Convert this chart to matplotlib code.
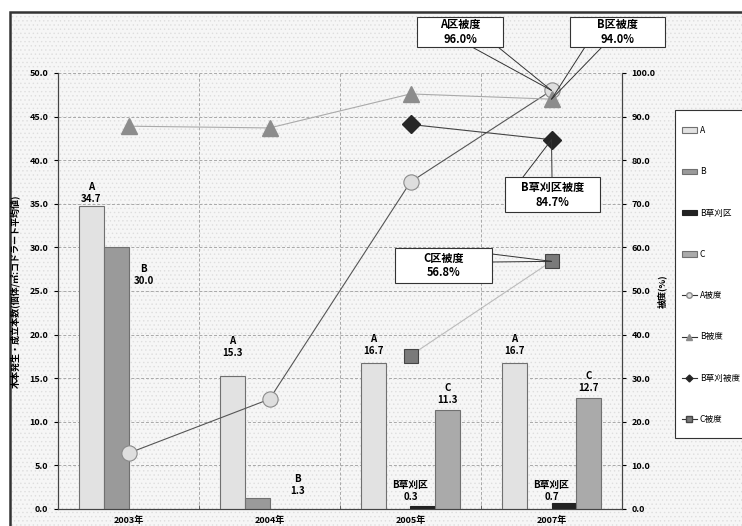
import numpy as np
import matplotlib
matplotlib.use("Agg")
import matplotlib.pyplot as plt
from matplotlib.patches import Rectangle, ConnectionPatch, Patch
from matplotlib.lines import Line2D

plt.rcParams['font.family'] = ['Noto Sans CJK JP', 'DejaVu Sans']
plt.rcParams['hatch.linewidth'] = 0.5

years = ['2003年', '2004年', '2005年', '2007年']
bar_A = [34.7, 15.3, 16.7, 16.7]
bar_B = [30.0, 1.3, np.nan, np.nan]
bar_Bmow = [np.nan, np.nan, 0.3, 0.7]
bar_C = [np.nan, np.nan, 11.3, 12.7]
cov_A = [12.8, 25.2, 75.0, 96.0]
cov_B = [87.8, 87.4, 95.2, 94.0]
cov_Bmow = [np.nan, np.nan, 88.2, 84.7]
cov_C = [np.nan, np.nan, 35.2, 56.8]

W, H = 742, 526
fig = plt.figure(figsize=(W / 100, H / 100), dpi=100)
fig.patch.set_facecolor('white')

def fx(px):
    return px / W

def fy(py):
    return 1 - py / H

# textured chart area background with frame
bg = Rectangle((fx(10), -0.02), 1.0, fy(12) + 0.02, transform=fig.transFigure,
               facecolor='#f6f6f6', edgecolor='#dedede', linewidth=0,
               hatch='....', zorder=-10)
fig.add_artist(bg)
frame = Rectangle((fx(10), -0.02), 1.0, fy(12) + 0.02, transform=fig.transFigure,
                  facecolor='none', edgecolor='#333333', linewidth=1.8, zorder=-9)
fig.add_artist(frame)

ax = fig.add_axes([fx(58), fy(509), fx(622) - fx(58), fy(73) - fy(509)])
ax.set_facecolor('none')
ax2 = ax.twinx()
ax2.set_facecolor('none')

x = np.arange(len(years))
w = 0.177
ec = '#707070'
ax.bar(x - 1.5 * w, bar_A, w, color='#e2e2e2', edgecolor=ec, linewidth=0.8, zorder=3)
ax.bar(x - 0.5 * w, bar_B, w, color='#9a9a9a', edgecolor=ec, linewidth=0.8, zorder=3)
ax.bar(x + 0.5 * w, bar_Bmow, w, color='#222222', edgecolor='#222222', linewidth=0.8, zorder=3)
ax.bar(x + 1.5 * w, bar_C, w, color='#aaaaaa', edgecolor=ec, linewidth=0.8, zorder=3)

ax.set_xlim(-0.5, 3.5)
ax.set_ylim(0, 50)
ax2.set_ylim(0, 100)
ax.set_yticks(np.arange(0, 50.1, 5))
ax.set_yticklabels([f'{v:.1f}' for v in np.arange(0, 50.1, 5)], fontsize=6.5, fontweight='bold')
ax2.set_yticks(np.arange(0, 100.1, 10))
ax2.set_yticklabels([f'{v:.1f}' for v in np.arange(0, 100.1, 10)], fontsize=6.5, fontweight='bold')
ax.set_xticks(x)
ax.set_xticklabels(years, fontsize=6.5, fontweight='bold')
ax.tick_params(axis='x', length=0, pad=5)
ax.set_xticks([0.5, 1.5, 2.5], minor=True)
ax.tick_params(axis='x', which='minor', direction='in', length=3, color='#555555')
ax.tick_params(axis='y', length=3, width=0.8, pad=4)
ax2.tick_params(axis='y', length=3, width=0.8, pad=4)

for a in (ax, ax2):
    a.spines['top'].set_visible(False)
    a.spines['left'].set_color('#444444')
    a.spines['right'].set_color('#444444')
    a.spines['bottom'].set_color('#444444')

ax.yaxis.grid(True, linestyle=(0, (3, 2)), color='#a8a8a8', linewidth=0.7, zorder=0)
ax.xaxis.grid(True, which='minor', linestyle=(0, (3, 2)), color='#a8a8a8', linewidth=0.7, zorder=0)
ax.set_axisbelow(True)

ax.set_ylabel('木本発生・成立本数(個体/㎡:コドラート平均値)', fontsize=6.5, fontweight='bold')
ax.yaxis.set_label_coords(-0.068, 0.5)
ax2.set_ylabel('被度(%)', fontsize=6.5, fontweight='bold', rotation=90, labelpad=1)

# bar value labels
lab = dict(ha='center', va='bottom', fontsize=7, fontweight='bold', linespacing=1.25,
           textcoords='offset points', zorder=6)
ax.annotate(f'A\n{bar_A[0]:.1f}', (x[0] - 1.5 * w, bar_A[0]), xytext=(0, 2), **lab)
ax.annotate(f'A\n{bar_A[1]:.1f}', (x[1] - 1.5 * w, bar_A[1]), xytext=(0, 13), **lab)
ax.annotate(f'A\n{bar_A[2]:.1f}', (x[2] - 1.5 * w, bar_A[2]), xytext=(0, 5), **lab)
ax.annotate(f'A\n{bar_A[3]:.1f}', (x[3] - 1.5 * w, bar_A[3]), xytext=(0, 5), **lab)
ax.annotate(f'B\n{bar_B[0]:.1f}', (x[0] + 0.5 * w, bar_B[0]), xytext=(2, -28), **lab)
ax.annotate(f'B\n{bar_B[1]:.1f}', (x[1] + 0.5 * w, bar_B[1]), xytext=(11, 1), **lab)
ax.annotate(f'B草刈区\n{bar_Bmow[2]:.1f}', (x[2], bar_Bmow[2]), xytext=(0, 3), **lab)
ax.annotate(f'B草刈区\n{bar_Bmow[3]:.1f}', (x[3], bar_Bmow[3]), xytext=(0, 1), **lab)
ax.annotate(f'C\n{bar_C[2]:.1f}', (x[2] + 1.5 * w, bar_C[2]), xytext=(0, 4), **lab)
ax.annotate(f'C\n{bar_C[3]:.1f}', (x[3] + 1.5 * w, bar_C[3]), xytext=(0, 4), **lab)

# coverage lines
ax2.plot(x, cov_A, color='#555555', lw=0.8, marker='o', ms=11, mfc='#dedede', mec='#8a8a8a', mew=0.8, zorder=5)
ax2.plot(x, cov_B, color='#aaaaaa', lw=0.8, marker='^', ms=12, mfc='#8c8c8c', mec='#8c8c8c', zorder=5)
ax2.plot(x, cov_Bmow, color='#444444', lw=0.8, marker='D', ms=9, mfc='#262626', mec='#262626', zorder=5)
ax2.plot(x, cov_C, color='#bbbbbb', lw=0.8, marker='s', ms=10, mfc='#7a7a7a', mec='#444444', mew=0.8, zorder=5)

# callout boxes
def callout(box, text, p1, p2, xv, yv):
    x0, y0, x1, y1 = box
    r = Rectangle((fx(x0), fy(y1)), fx(x1) - fx(x0), fy(y0) - fy(y1), transform=fig.transFigure,
                  facecolor='white', edgecolor='#333333', linewidth=0.8, zorder=20)
    fig.add_artist(r)
    fig.text(fx((x0 + x1) / 2), fy((y0 + y1) / 2), text, ha='center', va='center',
             fontsize=8, fontweight='bold', linespacing=1.2, zorder=21)
    for p in (p1, p2):
        c = ConnectionPatch(xyA=(fx(p[0]), fy(p[1])), coordsA=fig.transFigure,
                            xyB=(xv, yv), coordsB=ax2.transData,
                            color='#333333', linewidth=0.7, zorder=19)
        fig.add_artist(c)

callout((417, 17, 503, 47), f'A区被度\n{cov_A[3]:.1f}%', (472, 47), (498, 47), x[3], cov_A[3])
callout((570, 17, 665, 47), f'B区被度\n{cov_B[3]:.1f}%', (585, 47), (602, 47), x[3], cov_B[3])
callout((505, 177, 600, 212), f'B草刈区被度\n{cov_Bmow[3]:.1f}%', (523, 177), (552, 177), x[3], cov_Bmow[3])
callout((395, 248, 492, 283), f'C区被度\n{cov_C[3]:.1f}%', (492, 254), (492, 262), x[3], cov_C[3])

# legend frame (extends past the right edge like the reference)
lf = Rectangle((fx(675), fy(438)), 0.2, fy(110) - fy(438), transform=fig.transFigure,
               facecolor='white', edgecolor='#333333', linewidth=0.8, zorder=25)
fig.add_artist(lf)

handles = [
    Patch(facecolor='#e2e2e2', edgecolor=ec, linewidth=0.8),
    Patch(facecolor='#9a9a9a', edgecolor=ec, linewidth=0.8),
    Patch(facecolor='#222222', edgecolor='#222222', linewidth=0.8),
    Patch(facecolor='#aaaaaa', edgecolor=ec, linewidth=0.8),
    Line2D([], [], color='#333333', lw=0.8, marker='o', ms=4, mfc='#dedede', mec='#8a8a8a'),
    Line2D([], [], color='#333333', lw=0.8, marker='^', ms=4.5, mfc='#8c8c8c', mec='#8c8c8c'),
    Line2D([], [], color='#333333', lw=0.8, marker='D', ms=3.5, mfc='#262626', mec='#262626'),
    Line2D([], [], color='#333333', lw=0.8, marker='s', ms=4, mfc='#7a7a7a', mec='#444444'),
]
labels = ['A', 'B', 'B草刈区', 'C', 'A被度', 'B被度', 'B草刈被度', 'C被度']
leg = fig.legend(handles, labels, loc='upper left', bbox_to_anchor=(fx(682), fy(126)),
                 fontsize=6.2, frameon=False,
                 labelspacing=3.75, handlelength=1.7, handleheight=0.6, handletextpad=0.35,
                 borderpad=0, borderaxespad=0)
leg.set_zorder(26)

fig.savefig('out.png', dpi=100)
